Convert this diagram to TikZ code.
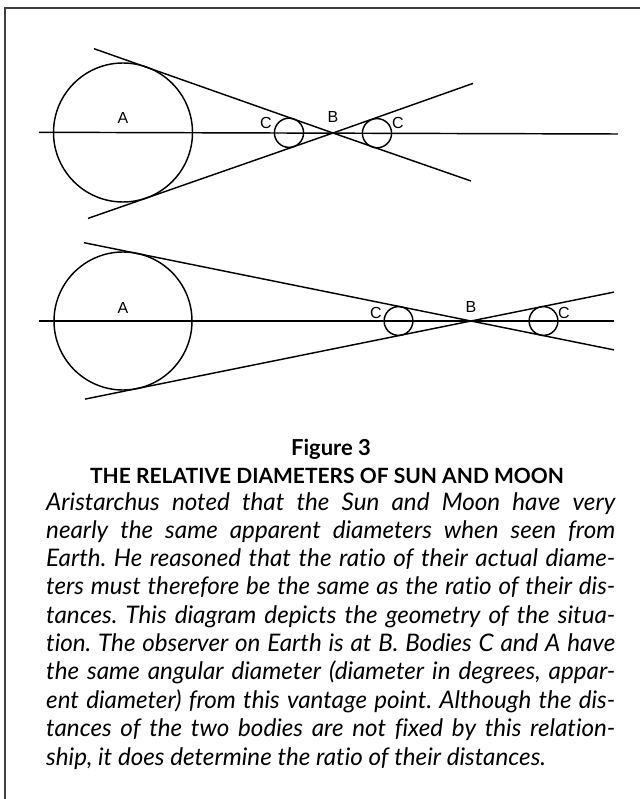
\documentclass[tikz,border=0pt]{standalone}
\usepackage{fontspec}
\setmainfont[Ligatures=NoCommon]{Lato}
\newfontfamily\labelfont{Liberation Sans}
\frenchspacing
\begin{document}
\begin{tikzpicture}[x=1pt,y=-1pt,
  geo/.style={line width=1.45pt, black},
  frameline/.style={line width=1.6pt, black!75},
  lbl/.style={font=\labelfont\fontsize{16}{16}\selectfont, inner sep=0pt},
  headA/.style={font=\bfseries\fontsize{22}{22}\selectfont, inner sep=0pt, anchor=base},
  headB/.style={font=\bfseries\fontsize{21}{21}\selectfont, inner sep=0pt, anchor=base},
  bodyline/.style={font=\itshape\fontsize{24.2}{24}\selectfont, inner sep=0pt, anchor=base west}]
\useasboundingbox (0,0) rectangle (640,799);
% frame
\coordinate (F0) at (5,8);
\coordinate (F1) at (640,8);
\coordinate (F2) at (5,799);
\draw[frameline] (F1) -- (F0) -- (F2);

% ---------- diagram 1 ----------
\coordinate (A1) at (123,132.5);
\coordinate (B1) at (333,133);
\coordinate (X1a) at (39,132.3);
\coordinate (X1b) at (618,134);
\coordinate (U1a) at (94,48.7);
\coordinate (U1b) at (471,181);
\coordinate (L1a) at (88,218.4);
\coordinate (L1b) at (473,83.4);
\coordinate (C1a) at (289,132.8);
\coordinate (C1b) at (377,133.2);
\draw[geo] (X1a) -- (X1b);
\draw[geo] (U1a) -- (B1) -- (U1b);
\draw[geo] (L1a) -- (B1) -- (L1b);
\draw[geo] (A1) circle[radius=69.5];
\draw[geo] (C1a) circle[radius=14.6];
\draw[geo] (C1b) circle[radius=14.6];
\node[lbl] (tA1) at (123,118) {A};
\node[lbl] (tB1) at (333,117) {B};
\node[lbl] (tC1a) at (266,123) {C};
\node[lbl] (tC1b) at (398,123) {C};

% ---------- diagram 2 ----------
\coordinate (A2) at (123,321);
\coordinate (B2) at (471,321);
\coordinate (X2a) at (39,321);
\coordinate (X2b) at (614,321);
\coordinate (U2a) at (84,242.7);
\coordinate (U2b) at (614,349.9);
\coordinate (L2a) at (85,399.1);
\coordinate (L2b) at (614,292.1);
\coordinate (C2a) at (398.5,321);
\coordinate (C2b) at (543.5,321);
\draw[geo] (X2a) -- (X2b);
\draw[geo] (U2a) -- (B2) -- (U2b);
\draw[geo] (L2a) -- (B2) -- (L2b);
\draw[geo] (A2) circle[radius=69];
\draw[geo] (C2a) circle[radius=14.4];
\draw[geo] (C2b) circle[radius=14.4];
\node[lbl] (tA2) at (123,308) {A};
\node[lbl] (tB2) at (471,307) {B};
\node[lbl] (tC2a) at (376,313) {C};
\node[lbl] (tC2b) at (564,313) {C};

% ---------- caption ----------
\node[headA] (fig) at (331,455) {Figure 3};
\node[headB] (title) at (327,483) {THE RELATIVE DIAMETERS OF SUN AND MOON};
\node[bodyline] (l1) at (46,510) {\hbox to 569pt{Aristarchus noted that the Sun and Moon have very}};
\node[bodyline] (l2) at (46,538.3) {\hbox to 569pt{nearly the same apparent diameters when seen from}};
\node[bodyline] (l3) at (46,566.6) {\hbox to 569pt{Earth. He reasoned that the ratio of their actual diame-}};
\node[bodyline] (l4) at (46,594.9) {\hbox to 569pt{ters must therefore be the same as the ratio of their dis-}};
\node[bodyline] (l5) at (46,623.2) {\hbox to 569pt{tances. This diagram depicts the geometry of the situa-}};
\node[bodyline] (l6) at (46,651.5) {\hbox to 569pt{tion. The observer on Earth is at B. Bodies C and A have}};
\node[bodyline] (l7) at (46,679.8) {\hbox to 569pt{the same angular diameter (diameter in degrees, appar-}};
\node[bodyline] (l8) at (46,708.1) {\hbox to 569pt{ent diameter) from this vantage point. Although the dis-}};
\node[bodyline] (l9) at (46,736.4) {\hbox to 569pt{tances of the two bodies are not fixed by this relation-}};
\node[bodyline] (l10) at (46,765) {ship, it does determine the ratio of their distances.};
\end{tikzpicture}
\end{document}
